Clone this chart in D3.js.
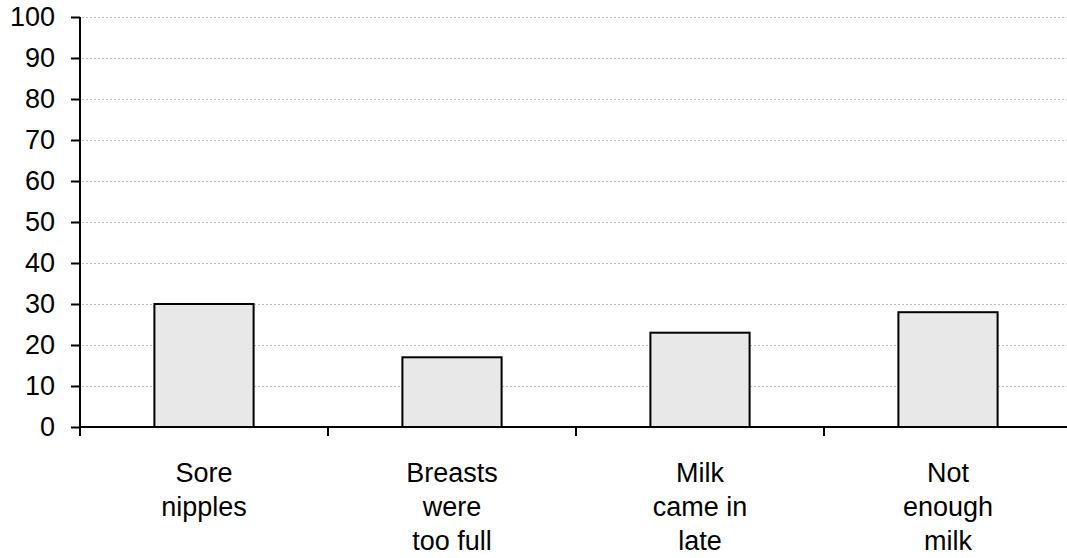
<!DOCTYPE html>
<html>
<head>
<meta charset="utf-8">
<script src="https://cdn.jsdelivr.net/npm/d3@7"></script>
<style>
  body { margin: 0; background: #fff; }
  svg { display: block; font-family: "Liberation Sans", Arial, sans-serif; }
</style>
</head>
<body>
<svg id="chart" width="1067" height="558"></svg>
<script>
const categories = [
    ['Sore', 'nipples'],
    ['Breasts', 'were', 'too full'],
    ['Milk', 'came in', 'late'],
    ['Not', 'enough', 'milk']
];
const values = [30, 17, 23, 28];
const yTicks = [0, 10, 20, 30, 40, 50, 60, 70, 80, 90, 100];

const margin = {top: 17, left: 80, bottom: 131};
let svg = d3.select('#chart');
const width = 1067, height = 558;
const fontSize = 27;

// band of each category is ~248px, the last one runs off the right edge
let xScale = d3.scaleBand()
    .domain(d3.range(categories.length))
    .range([margin.left, margin.left + 248 * categories.length])
    .paddingInner(0)
    .paddingOuter(0);
let yScale = d3.scaleLinear()
    .domain([0, 100])
    .range([height - margin.bottom, margin.top]);

// dotted gridlines
svg.append('g')
    .selectAll('line')
    .data(yTicks.filter(d => d > 0))
    .enter()
    .append('line')
    .attr('x1', margin.left + 2)
    .attr('x2', width)
    .attr('y1', d => Math.round(yScale(d)) + 0.5)
    .attr('y2', d => Math.round(yScale(d)) + 0.5)
    .attr('stroke', '#bbb')
    .attr('stroke-width', 1)
    .attr('stroke-dasharray', '2,2');

// bars
const barW = xScale.bandwidth() * 0.4;
svg.append('g')
    .selectAll('rect')
    .data(values)
    .enter()
    .append('rect')
    .attr('x', (d, i) => xScale(i) + (xScale.bandwidth() - barW) / 2)
    .attr('y', d => yScale(d))
    .attr('width', barW)
    .attr('height', d => yScale(0) - yScale(d))
    .attr('fill', '#e8e8e8')
    .attr('stroke', '#000')
    .attr('stroke-width', 2);

// y axis
let yAxis = svg.append('g')
    .attr('transform', 'translate(' + margin.left + ',0)')
    .call(d3.axisLeft(yScale).tickValues(yTicks).tickSize(9).tickPadding(16));
yAxis.select('.domain').attr('stroke-width', 2).attr('d', 'M0,' + yScale(100) + 'V' + (yScale(0) + 9));
yAxis.selectAll('.tick line').attr('stroke-width', 2);
yAxis.selectAll('.tick text')
    .style('font-size', fontSize + 'px')
    .style('font-family', '"Liberation Sans", Arial, sans-serif')
    .attr('fill', '#000');

// x axis
let xAxis = svg.append('g')
    .attr('transform', 'translate(0,' + yScale(0) + ')');
xAxis.append('line')
    .attr('x1', margin.left)
    .attr('x2', width)
    .attr('stroke', '#000')
    .attr('stroke-width', 2);
xAxis.selectAll('.xtick')
    .data(d3.range(1, categories.length))
    .enter()
    .append('line')
    .attr('x1', i => xScale(i))
    .attr('x2', i => xScale(i))
    .attr('y1', 0)
    .attr('y2', 9)
    .attr('stroke', '#000')
    .attr('stroke-width', 2);

let labels = xAxis.selectAll('.xlabel')
    .data(categories)
    .enter()
    .append('text')
    .attr('text-anchor', 'middle')
    .style('font-size', fontSize + 'px')
    .attr('fill', '#000');
labels.selectAll('tspan')
    .data((d, i) => d.map(s => ({s: s, i: i})))
    .enter()
    .append('tspan')
    .attr('x', d => xScale(d.i) + xScale.bandwidth() / 2)
    .attr('y', (d, j) => 55 + j * 34)
    .text(d => d.s);
</script>
</body>
</html>
